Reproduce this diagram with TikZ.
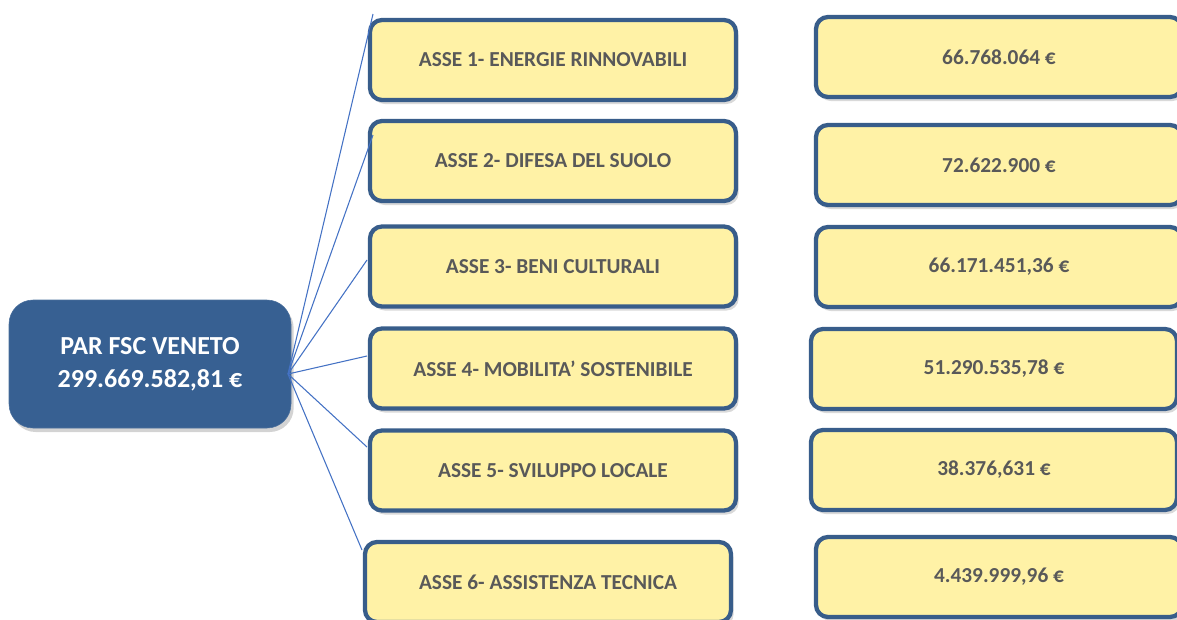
\documentclass[tikz,border=0pt]{standalone}
\usepackage{fontspec}
\setmainfont{Carlito}
\usepackage{tikz}
\usetikzlibrary{shadows,positioning}
\definecolor{hubblue}{RGB}{55,96,146}
\definecolor{boxline}{RGB}{56,93,138}
\definecolor{boxfill}{RGB}{255,242,166}
\definecolor{txtgray}{RGB}{89,89,89}
\definecolor{linkblue}{RGB}{68,114,196}

\begin{document}
\begin{tikzpicture}[x=0.75pt,y=-0.75pt,
    hub/.style={rectangle,rounded corners=18pt,fill=hubblue,draw=hubblue!90!white,
      text=white,font=\fontsize{19.5}{25}\selectfont\bfseries,align=center,
      minimum width=211.5pt,minimum height=96pt,
      drop shadow={opacity=0.35,shadow xshift=2pt,shadow yshift=-3pt}},
    asse/.style={rectangle,rounded corners=9pt,fill=boxfill,draw=boxline,line width=3.2pt,
      text=txtgray,font=\fontsize{16}{19}\selectfont\bfseries,
      minimum width=274.5pt,minimum height=60pt,
      drop shadow={opacity=0.3,shadow xshift=2pt,shadow yshift=-3pt}},
    link/.style={linkblue,line width=0.8pt}]
  \useasboundingbox (0,0) rectangle (1177,619);
  % central node
  \node[hub] (par) at (150,364) {PAR FSC VENETO\\299.669.582,81 €};
  \coordinate (hubpt) at (288,374);
  % axes
  \node[asse] (a1) at (553,60) {ASSE 1- ENERGIE RINNOVABILI};
  \node[asse] (a2) at (553,161) {ASSE 2- DIFESA DEL SUOLO};
  \node[asse] (a3) at (553,266.5) {ASSE 3- BENI CULTURALI};
  \node[asse] (a4) at (553,368.5) {ASSE 4- MOBILITA’ SOSTENIBILE};
  \node[asse] (a5) at (553,470.5) {ASSE 5- SVILUPPO LOCALE};
  \node[asse] (a6) at (548,582) {ASSE 6- ASSISTENZA TECNICA};
  % amounts
  \node[asse] (v1) at (999,57) {66.768.064 €};
  \node[asse] (v2) at (999,165) {72.622.900 €};
  \node[asse] (v3) at (999,267) {66.171.451,36 €};
  \node[asse] (v4) at (994,369) {51.290.535,78 €};
  \node[asse] (v5) at (994,470) {38.376,631 €};
  \node[asse] (v6) at (999,577) {4.439.999,96 €};
  % link ends
  \coordinate (e1) at (373,14);
  \coordinate (e2) at (373,135);
  \coordinate (e3) at (367,260);
  \coordinate (e4) at (367,356);
  \coordinate (e5) at (367,447);
  \coordinate (e6) at (362,550);
  \foreach \i in {1,...,6}
    \draw[link] (hubpt) -- (e\i);
\end{tikzpicture}
\end{document}
